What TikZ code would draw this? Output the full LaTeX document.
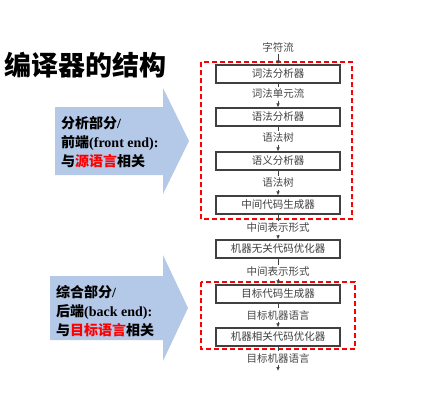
\documentclass[tikz,border=0pt]{standalone}
\usepackage{fontspec}
\setmainfont{Liberation Serif}
\newfontfamily\cjk{Noto Sans CJK SC}
\usetikzlibrary{arrows.meta}
\definecolor{arrowblue}{RGB}{180,200,232}
\definecolor{boxgray}{RGB}{64,64,64}
\definecolor{labgray}{RGB}{70,70,70}
\begin{document}
\begin{tikzpicture}[x=1pt,y=-1pt,
  stagebox/.style={draw=boxgray,line width=1.1pt,fill=white,minimum width=124pt,minimum height=18pt,inner sep=0pt,font=\cjk\fontsize{10.5}{12}\selectfont,text=boxgray},
  flowlab/.style={inner sep=1.5pt,font=\cjk\fontsize{10.5}{12}\selectfont,text=labgray},
  flowline/.style={draw=boxgray,line width=0.7pt},
  flowarrow/.style={flowline,-{Latex[length=4pt,width=3.5pt]}},
  redbox/.style={draw=red,line width=1.3pt,dash pattern=on 5pt off 3pt},
  bigarrow/.style={fill=arrowblue,draw=none},
  armtext/.style={anchor=west,align=left,inner sep=0pt,font=\bfseries\fontsize{14}{19}\selectfont}
]
\useasboundingbox (0,0) rectangle (422,407);
% title
\node[anchor=west,inner sep=0pt,font=\cjk\bfseries\fontsize{27}{30}\selectfont] (title) at (4,65) {编译器的结构};
% big arrows
\fill[bigarrow] (55,107) -- (163,107) -- (163,88) -- (189,141) -- (163,194) -- (163,175) -- (55,175) -- cycle;
\fill[bigarrow] (50,276) -- (163,276) -- (163,255) -- (188,308) -- (163,361) -- (163,340) -- (50,340) -- cycle;
\node[armtext] (front) at (61,142) {{\cjk 分析部分}/\\{\cjk 前端}(front end):\\{\cjk 与{\color{red}源语言}相关}};
\node[armtext] (back) at (56,311) {{\cjk 综合部分}/\\{\cjk 后端}(back end):\\{\cjk 与{\color{red}目标语言}相关}};
% red dashed groups
\draw[redbox] (201,62) rectangle (352,219);
\draw[redbox] (201,282) rectangle (355,349);
% flow
\node[flowlab] (l0) at (278,47) {字符流};
\node[stagebox] (b1) at (278,74) {词法分析器};
\node[flowlab] (l1) at (278,94) {词法单元流};
\node[stagebox] (b2) at (278,117) {语法分析器};
\node[flowlab] (l2) at (278,138) {语法树};
\node[stagebox] (b3) at (278,161) {语义分析器};
\node[flowlab] (l3) at (278,183) {语法树};
\node[stagebox] (b4) at (278,205) {中间代码生成器};
\node[flowlab] (l4) at (278,228) {中间表示形式};
\node[stagebox] (b5) at (278,249) {机器无关代码优化器};
\node[flowlab] (l5) at (278,272) {中间表示形式};
\node[stagebox] (b6) at (278,294) {目标代码生成器};
\node[flowlab] (l6) at (278,315) {目标机器语言};
\node[stagebox] (b7) at (278,337) {机器相关代码优化器};
\node[flowlab] (l7) at (278,358) {目标机器语言};
\coordinate (endpt) at (278,371);
\draw[flowarrow] (l0) -- (b1);
\draw[flowline] (b1) -- (l1);
\draw[flowarrow] (l1) -- (b2);
\draw[flowline] (b2) -- (l2);
\draw[flowarrow] (l2) -- (b3);
\draw[flowline] (b3) -- (l3);
\draw[flowarrow] (l3) -- (b4);
\draw[flowline] (b4) -- (l4);
\draw[flowarrow] (l4) -- (b5);
\draw[flowline] (b5) -- (l5);
\draw[flowarrow] (l5) -- (b6);
\draw[flowline] (b6) -- (l6);
\draw[flowarrow] (l6) -- (b7);
\draw[flowline] (b7) -- (l7);
\draw[flowarrow] (l7) -- (endpt);
\end{tikzpicture}
\end{document}
